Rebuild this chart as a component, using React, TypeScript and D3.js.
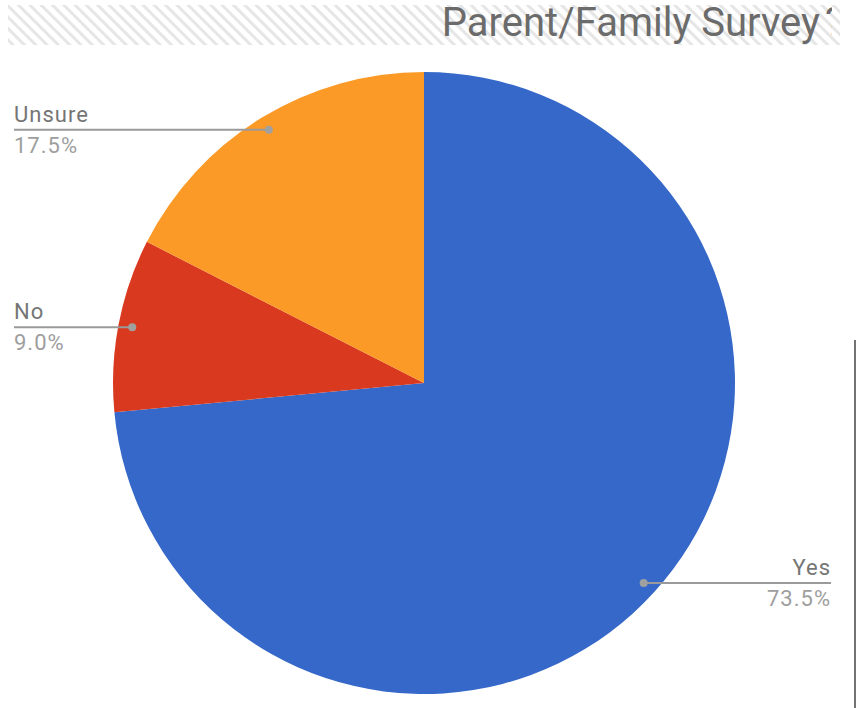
import React from "react";
import * as d3 from "d3";

const categories = ["Yes", "No", "Unsure"];
const values = [73.5, 9.0, 17.5];
const percentLabels = ["73.5%", "9.0%", "17.5%"];
const colors = ["#3668C9", "#D93A1F", "#FC9A27"];
const title = "Parent/Family Survey";

const W = 856;
const H = 708;
const cx = 424;
const cy = 383;
const R = 311;

export default function App() {
  const pie = d3.pie<number>().sort(null).value((d) => d);
  const arcs = pie(values);
  const arc = d3.arc<d3.PieArcDatum<number>>().innerRadius(0).outerRadius(R);
  const dotArc = d3
    .arc<d3.PieArcDatum<number>>()
    .innerRadius(R * 0.955)
    .outerRadius(R * 0.955);

  const labelLayout: Record<string, { x: number; anchor: "start" | "end" }> = {
    Yes: { x: 831, anchor: "end" },
    No: { x: 14, anchor: "start" },
    Unsure: { x: 14, anchor: "start" },
  };

  return (
    <svg
      width={W}
      height={H}
      style={{ position: "fixed", left: 0, top: 0, background: "#fff" }}
      fontFamily="Roboto, sans-serif"
    >
      <defs>
        <pattern id="hatch" width={8} height={8} patternUnits="userSpaceOnUse" patternTransform="rotate(-45)">
          <rect x={0} y={0} width={3} height={8} fill="#e6e6e6" />
        </pattern>
        <clipPath id="clipQ">
          <rect x={822} y={0} width={10} height={60} />
        </clipPath>
      </defs>
      <rect x={8} y={5} width={832} height={40} fill="url(#hatch)" />
      <text x={820} y={36} textAnchor="end" fontSize={40} fill="#6b6b6b">
        {title}
      </text>
      <text x={825} y={36} fontSize={40} fill="#6b6b6b" clipPath="url(#clipQ)">
        ?
      </text>
      <line x1={855} y1={340} x2={855} y2={708} stroke="#444" strokeWidth={1.5} />

      <g transform={`translate(${cx},${cy})`}>
        {arcs.map((a, i) => (
          <path key={categories[i]} d={arc(a) || ""} fill={colors[i]} />
        ))}
      </g>

      {arcs.map((a, i) => {
        const [dx, dy] = dotArc.centroid(a);
        const px = cx + dx;
        const py = cy + dy;
        const L = labelLayout[categories[i]];
        return (
          <g key={"lab" + i}>
            <line x1={L.x} y1={py} x2={px} y2={py} stroke="#9a9a9a" strokeWidth={2} />
            <circle cx={px} cy={py} r={4} fill="#a0a0a0" />
            <text x={L.x} y={py - 8} textAnchor={L.anchor} fontSize={22} letterSpacing={1} fill="#757575">
              {categories[i]}
            </text>
            <text x={L.x} y={py + 23} textAnchor={L.anchor} fontSize={22} letterSpacing={1} fill="#9e9e9e">
              {percentLabels[i]}
            </text>
          </g>
        );
      })}
    </svg>
  );
}
